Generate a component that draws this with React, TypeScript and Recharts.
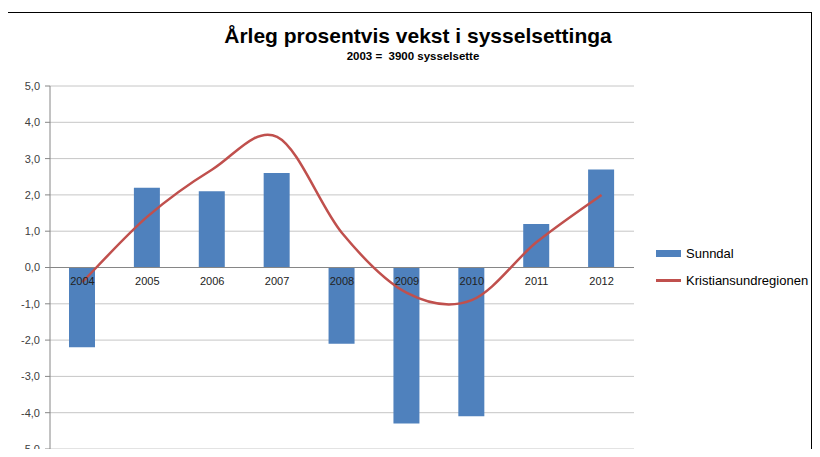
import React from 'react';
import { ComposedChart, Bar, Line, XAxis, YAxis, CartesianGrid, Legend, ReferenceLine, LabelList } from 'recharts';

const years = ['2004', '2005', '2006', '2007', '2008', '2009', '2010', '2011', '2012'];
const sunndal = [-2.2, 2.2, 2.1, 2.6, -2.1, -4.3, -4.1, 1.2, 2.7];
const kristiansund = [-0.4, 1.4, 2.7, 3.6, 0.95, -0.7, -0.9, 0.7, 2.0];
const yTicks = [-5, -4, -3, -2, -1, 0, 1, 2, 3, 4, 5];

const data = years.map((year, i) => ({
  year,
  sunndal: sunndal[i],
  region: kristiansund[i],
  axis: 0,
}));

const BLUE = '#4f81bd';
const RED = '#c0504d';
const FONT = '"Liberation Sans", Arial, sans-serif';

// smoothed line like the spreadsheet one (catmull-rom style bezier)
const smoothCurve = (context: any) => {
  let pts: number[][] = [];
  return {
    areaStart() {},
    areaEnd() {},
    lineStart() { pts = []; },
    point(x: number, y: number) { pts.push([+x, +y]); },
    lineEnd() {
      const n = pts.length;
      if (!n) return;
      context.moveTo(pts[0][0], pts[0][1]);
      for (let i = 0; i < n - 1; i++) {
        const p0 = pts[Math.max(i - 1, 0)];
        const p1 = pts[i];
        const p2 = pts[i + 1];
        const p3 = pts[Math.min(i + 2, n - 1)];
        context.bezierCurveTo(
          p1[0] + (p2[0] - p0[0]) / 6, p1[1] + (p2[1] - p0[1]) / 6,
          p2[0] - (p3[0] - p1[0]) / 6, p2[1] - (p3[1] - p1[1]) / 6,
          p2[0], p2[1]
        );
      }
    },
  };
};

const iconStyle = { display: 'inline-block', width: 25, marginRight: 5, flexShrink: 0 };

const LegendBox = () => (
  <div style={{ paddingLeft: 22, fontFamily: FONT, fontSize: 13, color: '#000', whiteSpace: 'nowrap' }}>
    <div style={{ display: 'flex', alignItems: 'center', height: 27 }}>
      <span style={{ ...iconStyle, height: 7, background: BLUE }} />
      Sunndal
    </div>
    <div style={{ display: 'flex', alignItems: 'center', height: 27 }}>
      <span style={{ ...iconStyle, height: 2.5, background: RED }} />
      Kristiansundregionen
    </div>
  </div>
);

export default function App() {
  return (
    <div style={{ position: 'relative', width: 804, height: 441 }}>
      <div style={{
        position: 'absolute', left: -1, top: 4, width: 805, height: 445,
        boxSizing: 'border-box', border: '1px solid #000', borderBottom: 'none',
        background: '#fff', overflow: 'hidden',
      }}>
        <div style={{
          position: 'absolute', left: 0, top: 10, width: 820, textAlign: 'center',
          fontFamily: FONT, fontWeight: 'bold',
          fontSize: 21, lineHeight: '26px', color: '#000',
        }}>
          Årleg prosentvis vekst i sysselsettinga
        </div>
        <div style={{
          position: 'absolute', left: 0, top: 35, width: 810, textAlign: 'center',
          fontFamily: FONT, fontWeight: 'bold',
          fontSize: 11.5, lineHeight: '16px', color: '#000', whiteSpace: 'pre',
        }}>
          {'2003 =  3900 sysselsette'}
        </div>
        <ComposedChart
          width={802}
          height={444}
          data={data}
          margin={{ top: 73, right: 16, bottom: 8, left: 0 }}
          barSize={26}
        >
          <CartesianGrid vertical={false} stroke="#c6c6c6" />
          <XAxis dataKey="year" hide height={0} />
          <YAxis
            domain={[-5, 5]}
            ticks={yTicks}
            width={42}
            interval={0}
            tickFormatter={(v: number) => v.toFixed(1).replace('.', ',')}
            tick={{ fill: '#404040', fontSize: 11, fontFamily: FONT }}
            tickMargin={5}
            tickSize={5}
            axisLine={{ stroke: '#868686' }}
            tickLine={{ stroke: '#868686' }}
          />
          <YAxis
            yAxisId="frame"
            orientation="right"
            domain={[-5, 5]}
            width={0}
            tick={false}
            tickLine={false}
            axisLine={{ stroke: '#c6c6c6' }}
          />
          <ReferenceLine y={0} stroke="#868686" />
          <Bar dataKey="sunndal" name="Sunndal" fill={BLUE} isAnimationActive={false} />
          <Line
            dataKey="axis"
            stroke="none"
            dot={false}
            activeDot={false}
            legendType="none"
            isAnimationActive={false}
          >
            <LabelList dataKey="year" position="bottom" offset={10} fill="#222" fontSize={11} fontFamily={FONT} />
          </Line>
          <Line
            dataKey="region"
            name="Kristiansundregionen"
            type={smoothCurve as any}
            stroke={RED}
            strokeWidth={2.5}
            dot={false}
            activeDot={false}
            isAnimationActive={false}
          />
          <Legend
            layout="vertical"
            align="right"
            verticalAlign="top"
            content={() => <LegendBox />}
            wrapperStyle={{ width: 160, top: 227 }}
          />
        </ComposedChart>
      </div>
    </div>
  );
}
